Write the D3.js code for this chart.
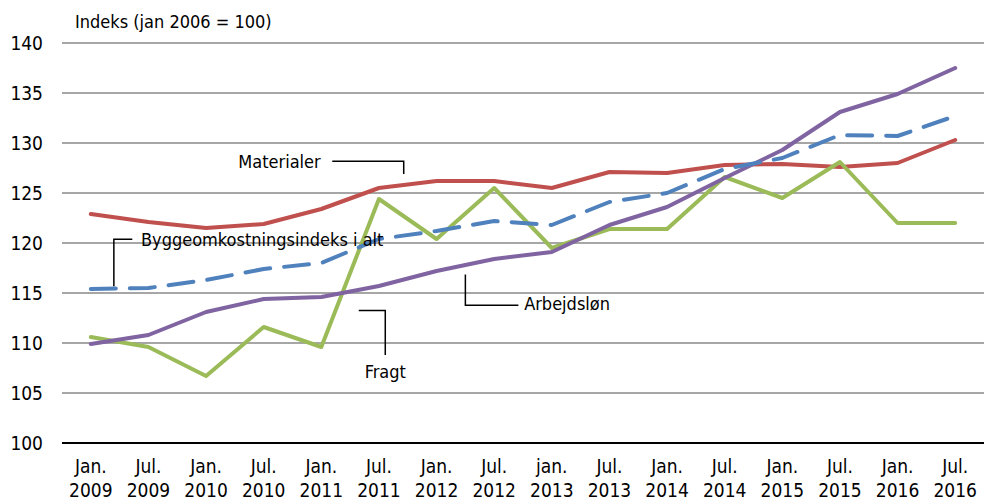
<!DOCTYPE html>
<html>
<head>
<meta charset="utf-8">
<script src="https://cdn.jsdelivr.net/npm/d3@7"></script>
<style>
  body { margin: 0; background: #fff; }
  text { font-family: "Liberation Sans Narrow", "DejaVu Sans Condensed", sans-serif; }
</style>
</head>
<body>
<div id="chart"></div>
<script>
// tick labels on the x axis (two lines each)
const months = ["Jan.", "Jul.", "Jan.", "Jul.", "Jan.", "Jul.", "Jan.", "Jul.",
  "jan.", "Jul.", "Jan.", "Jul.", "Jan.", "Jul.", "Jan.", "Jul."];
const years = ["2009", "2009", "2010", "2010", "2011", "2011", "2012", "2012",
  "2013", "2013", "2014", "2014", "2015", "2015", "2016", "2016"];
const yTicks = [100, 105, 110, 115, 120, 125, 130, 135, 140];

// series values
const materialer = [122.9, 122.1, 121.5, 121.9, 123.4, 125.5, 126.2, 126.2,
  125.5, 127.1, 127.0, 127.8, 127.9, 127.6, 128.0, 130.3];
const byggeomk = [115.4, 115.5, 116.3, 117.4, 118.0, 120.4, 121.2, 122.2,
  121.8, 124.1, 125.0, 127.4, 128.5, 130.8, 130.7, 132.7];
const fragt = [110.6, 109.6, 106.7, 111.6, 109.6, 124.4, 120.4, 125.5,
  119.5, 121.4, 121.4, 126.6, 124.5, 128.1, 122.0, 122.0];
const arbejdslon = [109.9, 110.8, 113.1, 114.4, 114.6, 115.7, 117.2, 118.4,
  119.1, 121.8, 123.6, 126.5, 129.3, 133.1, 134.9, 137.5];

const width = 997, height = 501;
const margin = { top: 43, right: 13, bottom: 60, left: 62 };

const svg = d3.select("#chart")
  .append("svg")
  .attr("width", width)
  .attr("height", height);

const x = d3.scalePoint()
  .domain(d3.range(months.length))
  .range([margin.left, width - margin.right])
  .padding(0.5);

const y = d3.scaleLinear()
  .domain([100, 140])
  .range([height - margin.bottom + 2, margin.top]);

// grid lines
svg.append("g")
  .selectAll("line")
  .data(yTicks)
  .enter()
  .append("line")
  .attr("x1", margin.left)
  .attr("x2", width - margin.right)
  .attr("y1", d => y(d))
  .attr("y2", d => y(d))
  .attr("stroke", d => d === 100 ? "#000" : "#a6a6a6")
  .attr("stroke-width", 2);

// y tick labels
svg.append("g")
  .selectAll("text")
  .data(yTicks)
  .enter()
  .append("text")
  .attr("x", 43)
  .attr("y", d => y(d))
  .attr("dy", "0.35em")
  .attr("text-anchor", "end")
  .style("font-size", "19px")
  .text(d => d);

// x tick labels
const xl = svg.append("g")
  .selectAll("text")
  .data(months)
  .enter()
  .append("text")
  .attr("text-anchor", "middle")
  .style("font-size", "19px");
xl.append("tspan")
  .attr("x", (d, i) => x(i))
  .attr("y", 473)
  .text(d => d);
xl.append("tspan")
  .attr("x", (d, i) => x(i))
  .attr("y", 497)
  .text((d, i) => years[i]);

// axis title
svg.append("text")
  .attr("x", 75)
  .attr("y", 28)
  .style("font-size", "18px")
  .text("Indeks (jan 2006 = 100)");

const line = d3.line()
  .x((d, i) => x(i))
  .y(d => y(d));

const series = [
  { values: materialer, color: "#c0504d", dash: null },
  { values: fragt, color: "#9bbb59", dash: null },
  { values: arbejdslon, color: "#8064a2", dash: null },
  { values: byggeomk, color: "#4f81bd", dash: "25,14" }
];

svg.append("g")
  .selectAll("path")
  .data(series)
  .enter()
  .append("path")
  .attr("d", d => line(d.values))
  .attr("fill", "none")
  .attr("stroke", d => d.color)
  .attr("stroke-width", 4)
  .attr("stroke-linejoin", "round")
  .attr("stroke-linecap", "round")
  .attr("stroke-dasharray", d => d.dash);

// annotations: leader lines given in (category index, value) units
const annotations = [
  { label: "Materialer", pts: [[4.19, 128.17], [5.43, 128.17], [5.43, 126.9]],
    tx: 3.99, ty: 128.1, anchor: "end" },
  { label: "Byggeomkostningsindeks i alt", pts: [[0.40, 115.68], [0.40, 120.37], [0.72, 120.37]],
    tx: 0.87, ty: 120.3, anchor: "start" },
  { label: "Fragt", pts: [[4.65, 113.24], [5.11, 113.24], [5.11, 108.81]],
    tx: 5.11, ty: 107.1, anchor: "middle" },
  { label: "Arbejdsløn", pts: [[6.50, 116.85], [6.50, 113.77], [7.42, 113.77]],
    tx: 7.52, ty: 113.9, anchor: "start" }
];

const xi = d3.scaleLinear().domain([0, 1]).range([x(0), x(1)]);
const leader = d3.line()
  .x(d => xi(d[0]))
  .y(d => y(d[1]));

const ann = svg.append("g");
ann.selectAll("path")
  .data(annotations)
  .enter()
  .append("path")
  .attr("d", d => leader(d.pts))
  .attr("fill", "none")
  .attr("stroke", "#000")
  .attr("stroke-width", 1.5);
ann.selectAll("text")
  .data(annotations)
  .enter()
  .append("text")
  .attr("x", d => xi(d.tx))
  .attr("y", d => y(d.ty))
  .attr("dy", "0.35em")
  .attr("text-anchor", d => d.anchor)
  .style("font-size", "18px")
  .text(d => d.label);
</script>
</body>
</html>
